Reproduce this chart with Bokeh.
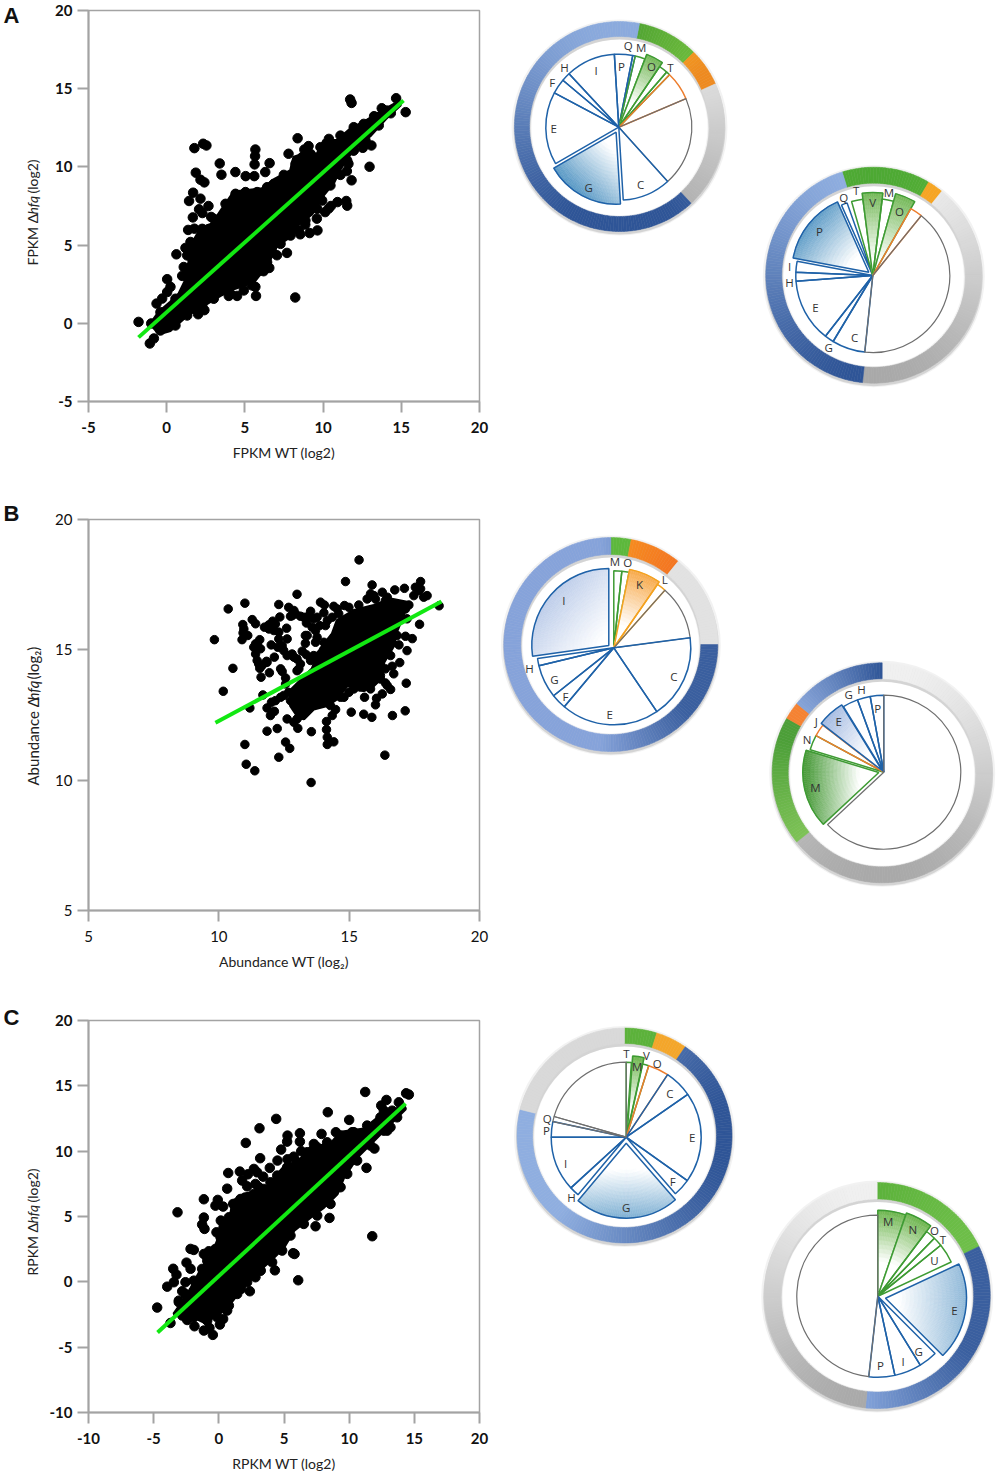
import math

from bokeh.core.properties import value
from bokeh.embed import file_html
from bokeh.layouts import column, row
from bokeh.models import FixedTicker
from bokeh.plotting import figure
from bokeh.resources import INLINE

# panel A, dots that can be told apart
a_x = [11.73, 11.82, 14.67, 15.28, 13.75, 14.07, 14.33, 13.26, 12.9, 8.37, 2.33, 2.54, 1.77, 5.67, 5.65, 7.79, 9.07, 8.8,
       3.39, 5.62, 6.58, 1.86, 3.5, 4.39, 5.05, 5.6, 6.3, 2.16, 2.41, 1.69, 2.16, 1.43, 2.67, 2.07, 2.28, 1.67, 2.84,
       1.37, 1.77, 1.52, 1.2, 0.62, 1.09, 0.99, 0.03, 0.24, 0.03, -0.29, -0.65, -1.8, -0.82, -1.08, -0.99, 2.01, 2.41,
       3.97, 4.5, 5.71, 8.22, 5.67, 6.2, 6.56, 7.05, 7.69, 8.54, 9.14, 9.64, 9.6, 8.86, 10.13, 10.5, 10.92, 11.48,
       11.54, 10.35, 11.82, 11.52, 12.97, 11.62, 13.09, 12.54, 11.94]
a_y = [14.31, 14.09, 14.39, 13.5, 13.75, 13.6, 13.43, 13.24, 12.75, 11.83, 11.48, 11.37, 11.2, 11.11, 10.69, 10.84, 11.33, 11.11,
       10.22, 10.16, 10.24, 9.63, 9.5, 9.67, 9.41, 9.41, 9.67, 9.18, 9.01, 8.35, 7.97, 7.82, 7.5, 7.29, 7.05, 6.77, 6.8,
       5.97, 6.05, 5.2, 4.82, 4.41, 3.6, 3.03, 2.82, 2.33, 2.0, 1.58, 1.26, 0.09, -0.97, -1.29, -0.01, 0.58, 0.84,
       1.75, 1.75, 1.75, 1.65, 2.33, 3.33, 3.54, 4.35, 4.5, 5.69, 5.77, 5.94, 6.69, 6.31, 7.11, 7.5, 7.75, 7.82,
       7.52, 7.33, 9.14, 9.73, 10.01, 10.2, 11.37, 11.22, 11.05]
# dots on the rim of the solid part
a_edge_x = [-0.4, 0.56, 1.2, 1.52, 1.31, 1.63, 2.27, 3.01, 3.76, 4.4, 5.04, 5.78, 6.42, 6.85, 7.49, 8.24, 8.66, 9.2, 9.83, 10.37,
            11.11, 11.96, 12.6, 13.56, 12.71, 11.96, 11.54, 11.11, 10.47, 9.94, 9.62, 8.87, 8.45, 7.92, 7.28, 6.74, 6.42, 6.0,
            5.46, 4.93, 4.08, 3.01, 2.27, 1.31, 0.56, -0.4]
a_edge_y = [0.71, 1.57, 3.06, 3.59, 4.34, 5.08, 6.04, 6.68, 7.64, 8.28, 8.39, 8.39, 8.7, 8.92, 9.49, 10.2, 10.62, 10.83, 11.26, 11.79,
            12.0, 12.54, 12.75, 12.65, 11.69, 11.05, 10.41, 9.49, 8.81, 7.85, 7.32, 6.57, 5.93, 5.61, 5.08, 4.55, 3.91, 3.38,
            2.42, 2.1, 1.88, 1.57, 1.14, 0.5, -0.14, -0.46]
# solid middle of the cloud: single dots cannot be read there, so its outline is read instead
a_core_x = [-1.04, -0.5, 0.24, 0.78, 1.2, 1.42, 1.42, 2.05, 2.59, 2.91, 3.55, 4.29, 5.15, 6.1, 6.96, 7.92, 8.13, 8.77, 9.62,
            10.05, 10.9, 11.75, 12.6, 13.46, 14.84, 14.95, 13.99, 13.03, 11.97, 11.11, 10.69, 9.83, 9.3, 8.34, 8.02, 7.06,
            6.42, 5.57, 4.29, 3.44, 2.37, 1.31, 0.24, -0.5]
a_core_y = [-0.03, 0.71, 1.35, 1.88, 2.74, 3.91, 4.76, 5.83, 6.25, 6.36, 7.32, 8.39, 8.49, 8.6, 9.24, 9.77, 10.62, 10.83, 10.83,
            11.69, 11.69, 12.43, 12.86, 13.39, 14.18, 13.97, 13.07, 12.0, 11.16, 9.88, 9.02, 7.96, 7.0, 6.25, 5.61, 4.98,
            3.7, 2.63, 2.2, 1.78, 1.14, 0.5, -0.46, -0.67]
a_fit_x = [-1.8, 15.14]
a_fit_y = [-0.9, 14.25]

b_x = [15.38, 14.86, 15.88, 13.0, 17.74, 17.54, 17.12, 16.75, 17.99, 17.86, 11.0, 10.36, 12.3, 12.68, 12.88, 12.75, 12.34, 11.28,
       11.41, 12.07, 11.92, 11.75, 10.92, 10.93, 11.11, 10.89, 9.83, 12.6, 12.3, 12.11, 12.62, 12.3, 11.57, 11.41, 11.34,
       12.01, 12.26, 12.49, 12.13, 11.41, 11.47, 11.83, 11.66, 11.57, 10.54, 11.94, 11.62, 12.43, 12.56, 10.17, 11.69,
       12.02, 11.19, 11.85, 12.13, 11.98, 12.37, 12.62, 11.85, 12.24, 12.88, 13.03, 13.55, 11.0, 12.56, 12.72, 12.3,
       11.05, 11.38, 13.54, 16.37, 14.13, 14.13, 14.16, 14.16, 14.41, 15.08, 15.56, 15.87, 16.66, 17.15, 14.35, 14.48,
       15.59, 14.8, 16.01, 16.05, 16.27, 16.59, 16.39, 17.19, 16.71, 16.65, 16.94, 17.22, 16.91, 17.42, 17.16, 17.7,
       18.45, 17.22, 13.9, 14.05, 14.41, 14.82, 14.03, 13.52, 13.13, 13.64, 13.36, 13.71, 13.39, 13.71, 13.32, 13.2,
       13.36, 12.81, 13.0, 13.52, 13.07, 15.82, 16.01, 15.37, 16.46, 16.39, 17.29, 17.74, 12.75, 15.82, 13.13]
b_y = [18.45, 17.62, 17.49, 17.13, 17.62, 17.4, 17.36, 17.3, 17.08, 17.02, 16.79, 16.57, 16.74, 16.63, 16.51, 16.29, 16.26, 16.16,
       16.0, 16.1, 15.96, 15.87, 15.97, 15.65, 15.55, 15.39, 15.39, 15.83, 15.68, 15.74, 15.42, 15.42, 15.39, 15.23, 15.1,
       15.19, 15.1, 14.97, 14.72, 14.84, 14.59, 14.56, 14.4, 14.29, 14.29, 14.12, 13.95, 14.17, 13.92, 13.41, 13.27,
       12.99, 12.77, 12.77, 12.64, 12.48, 13.18, 12.35, 11.88, 11.98, 12.22, 11.99, 11.86, 11.37, 11.46, 11.22, 10.88,
       10.61, 10.36, 9.91, 10.96, 12.25, 11.94, 11.65, 11.37, 11.47, 12.61, 12.53, 12.41, 12.48, 12.66, 12.48, 12.71,
       13.18, 13.18, 12.89, 13.14, 13.31, 13.48, 13.73, 13.72, 14.08, 14.37, 14.51, 14.97, 15.19, 15.43, 15.52, 15.98,
       16.69, 16.19, 16.83, 16.72, 16.67, 16.7, 16.42, 16.48, 16.29, 16.19, 16.03, 15.74, 15.55, 15.29, 15.25, 14.95,
       14.81, 14.84, 14.65, 14.59, 14.27, 17.15, 16.95, 16.72, 17.02, 16.89, 16.72, 17.34, 13.05, 14.24, 12.48]
b_edge_x = [12.94, 13.26, 13.45, 13.77, 13.87, 14.09, 14.35, 14.6, 13.77, 14.03, 13.9, 13.64, 12.81, 12.43, 12.62, 12.88, 13.13,
            13.0, 12.56, 12.17, 12.49, 12.68, 13.13, 13.39, 13.0, 13.71, 14.28, 14.67, 14.99, 15.56, 15.95, 16.2, 16.39, 16.59,
            16.84, 16.97, 17.48, 17.67, 17.16, 15.95, 16.27, 15.69, 14.99, 14.54, 16.46, 11.47, 11.6, 11.92, 12.17, 10.96,
            11.85, 11.53, 12.37, 13.32, 13.58, 14.16, 14.92, 15.18, 15.82, 16.2, 15.43]
b_edge_y = [16.38, 16.25, 16.31, 16.25, 15.93, 15.93, 16.25, 16.38, 15.48, 15.29, 14.84, 14.78, 16.31, 15.16, 14.78, 14.72, 14.46,
            14.2, 13.69, 13.05, 13.25, 13.37, 12.73, 12.73, 12.35, 12.93, 12.86, 13.18, 13.37, 13.57, 13.82, 14.01, 14.27, 14.78,
            15.55, 16.19, 17.08, 17.27, 16.57, 17.08, 17.21, 16.95, 16.63, 16.57, 13.63, 15.23, 15.04, 15.8, 15.99, 15.8,
            14.52, 14.46, 14.27, 15.55, 15.87, 16.12, 13.88, 13.5, 13.5, 13.88, 13.57]
b_core_x = [12.81, 13.58, 13.9, 14.35, 14.54, 15.18, 15.95, 16.59, 17.22, 17.1, 16.84, 16.71, 16.33, 16.27, 15.95, 15.56, 14.92,
            14.54, 14.16, 13.64, 13.26, 13.0, 12.75]
b_core_y = [13.5, 14.27, 15.04, 15.61, 16.12, 16.51, 16.7, 16.95, 16.83, 16.38, 15.74, 15.16, 14.52, 13.95, 13.63, 13.44, 13.63,
            13.12, 12.86, 12.73, 12.35, 12.48, 12.86]
b_fit_x = [9.87, 18.54]
b_fit_y = [12.2, 16.85]

c_x = [11.23, 14.37, 14.58, 12.86, 12.46, 13.81, 12.66, 8.36, 4.4, 10.0, 3.12, 5.27, 6.22, 7.88, 8.98, 2.07, 5.24, 6.22, 4.78,
       6.32, 7.29, 11.94, 3.17, 4.5, 5.27, 5.75, 0.72, 1.61, 2.69, 2.94, 3.91, 11.33, 2.23, 1.79, 3.4, 2.17, 2.81, 0.64,
       3.07, -1.15, -0.08, -0.26, 0.33, 1.1, -3.17, -1.15, -1.28, -1.1, 0.15, -0.18, 8.49, 11.77, 7.42, -2.17, -1.92,
       -0.77, -1.15, -2.48, 5.7, 5.81, 4.3, 6.09, -3.5, -3.25, -2.17, -3.45, -3.96, -2.56, -2.81, 2.38, -3.07, -4.73,
       -3.71, -2.43, -1.87, -1.15, -0.72, -0.46, 0.08, 0.33, 0.64, 1.71, 2.81, 3.2, 12.92, 13.17, 10.23]
c_y = [14.53, 14.43, 14.33, 13.92, 13.49, 13.74, 13.1, 12.98, 12.47, 12.39, 11.75, 11.19, 11.37, 11.32, 11.45, 10.63, 10.73, 10.73, 10.12,
       10.0, 10.55, 10.2, 9.46, 9.28, 9.38, 9.58, 8.33, 8.44, 8.64, 8.38, 8.72, 8.72, 8.23, 7.75, 8.05, 7.31, 7.49, 7.13,
       7.24, 6.32, 6.27, 5.83, 5.76, 5.96, 5.32, 4.92, 4.38, 4.05, 4.69, 3.79, 4.89, 3.49, 4.25, 2.52, 2.44,
       2.34, 2.13, 1.47, 2.19, 2.13, 0.88, 0.12, 1.0, 0.55, 1.0, -0.03, -0.37, -0.03, -0.72, -0.72, -1.44, -1.97,
       -3.15, -2.92, -3.4, -3.73, -3.53, -4.06, -3.27, -2.84, -2.2, -0.54, 0.35, 0.86, 11.57, 11.83, 11.45]
c_edge_x = [-3.07, -2.56, -1.92, -1.28, -0.89, -0.26, 0.13, 0.38, 0.77, 1.28, 1.66, 2.69, 3.45, 3.96, 4.48, 5.24, 6.01, 6.78, 7.55,
            8.31, 9.34, 10.36, 11.38, 12.4, 13.3, 13.68, 12.66, 11.64, 10.61, 9.85, 9.34, 8.57, 7.55, 6.52, 5.5, 4.86, 4.09, 3.2,
            2.17, 1.41, 0.77, -0.13, -0.89, -1.92, -2.81]
c_edge_y = [-1.56, -0.93, 0.09, 0.99, 1.62, 2.52, 3.41, 4.18, 4.94, 5.58, 6.34, 6.73, 7.11, 7.62, 8.13, 8.77, 9.15, 9.92, 10.3,
            10.68, 11.19, 11.45, 11.96, 12.59, 13.1, 12.59, 11.57, 10.43, 9.28, 8.26, 7.24, 5.96, 5.07, 4.43, 3.54, 2.39, 1.5, 0.86,
            -0.03, -0.93, -1.82, -2.71, -2.97, -2.71, -2.58]
c_core_x = [-3.45, -2.81, -2.17, -1.28, -0.51, 0, 0.13, 0.9, 1.15, 1.92, 3.45, 4.09, 4.86, 6.27, 7.03, 8.57, 9.34, 11.13, 12.4, 14.2,
            14.32, 13.04, 11.89, 10.61, 9.59, 9.08, 8.06, 7.03, 5.75, 4.99, 3.96, 2.94, 1.66, 0.64, -0.13, -1.15, -2.17, -3.2]
c_core_y = [-2.46, -1.56, -0.54, 1.11, 2.13, 3.41, 4.43, 5.2, 6.22, 6.73, 6.98, 7.75, 8.64, 9.41, 10.3, 10.55, 11.45, 11.7, 12.72, 13.49,
            13.23, 11.96, 10.81, 9.53, 8.0, 6.73, 5.71, 4.94, 3.92, 2.64, 1.62, 0.73, -0.67, -1.95, -2.58, -3.09, -2.58, -2.58]
c_fit_x = [-4.7, 14.33]
c_fit_y = [-3.88, 13.64]

a_ticks = [-5, 0, 5, 10, 15, 20]
b_ticks = [5, 10, 15, 20]
c_ticks = [-10, -5, 0, 5, 10, 15, 20]

# donuts, slices in degrees going clockwise, first one starts at *_start
a1_start = -3.5
a1_names = ["P", "Q", "M", "O", "", "T", "", "", "C", "G", "E", "F", "H", "I"]
a1_spans = [14.5, 2, 8, 13, 7, 3, 23, 71, 38.5, 63.5, 58, 12, 7, 39.5]
a1_kinds = "bbggggokbbbbbb"
a1_ring_start = 11
a1_ring = [34, 21, 71, 234]

a2_start = 186
a2_names = ["C", "G", "E", "H", "I", "P", "Q", "", "T", "V", "M", "O", "", ""]
a2_spans = [25, 7, 47.7, 6.8, 8.1, 55.4, 4.5, 3.5, 8.6, 14.4, 8.6, 14, 9.4, 147]
a2_kinds = "bbbbbbb-ggggok"
a2_ring_start = 343
a2_ring = [47.5, 8.5, 147, 157]

b1_start = 0
b1_names = ["M", "O", "K", "L", "", "C", "E", "F", "G", "H", "I"]
b1_spans = [6, 5.4, 23.2, 7, 40.9, 63.5, 74, 11.5, 25, 5.5, 98]
b1_kinds = "ggyykbbbbbb"
b1_ring_start = 0
b1_ring = [11, 28, 51, 270]

b2_start = 227
b2_names = ["M", "N", "J", "E", "G", "H", "P", ""]
b2_spans = [60, 11.3, 9.4, 20.7, 11.6, 9.8, 10.2, 227]
b2_kinds = "ggobbbbk"
b2_ring_start = 0
b2_ring = [231, 68.8, 9.2, 51]

c1_start = 0
c1_names = ["T", "M", "V", "O", "C", "E", "F", "G", "H", "I", "P", "Q", ""]
c1_spans = [4, 8.5, 5, 16, 21.7, 70.2, 13.6, 81, 7.5, 42.5, 12, 4, 74]
c1_kinds = "gggobbbbbbbkk"
c1_ring_start = 0
c1_ring = [17.5, 16.9, 249.6, 76]

c2_start = 0
c2_names = ["M", "N", "O", "T", "U", "E", "G", "I", "P", ""]
c2_spans = [19, 18, 7.3, 6.7, 14, 70, 13.4, 19.4, 18.6, 173.6]
c2_kinds = "gggggbbbbk"
c2_ring_start = 0
c2_ring = [64.3, 121.7, 174]

LINE = {"b": "#1F62A8", "g": "#3E9B33", "o": "#ED7D2D", "y": "#F4A21F", "k": "#6E6E6E"}
GREY_RING = ("#A6A6A6", "#F0F0F0", 0, -1, 0.9)

DONUTS = [
    dict(row=0, names=a1_names, spans=a1_spans, kinds=a1_kinds, start=a1_start, ring=a1_ring, ring_start=a1_ring_start,
         center=(618.3, 126.7), radius=73, ring_center=(619, 126), ring_r=(90, 105),
         ring_style=[("#4A9E30", "#6CBB3C", 90, 0, 0.7), ("#F6A623", "#EE8A20", 180, -0.9, -0.5), GREY_RING,
                     ("#8FAEE0", "#2F5597", 180, -1, 0.8)],
         big={"O": dict(r=78, color="#74B858", dir=28, lo=0.35, hi=1),
              "G": dict(r=72, tip=(-2.7, 5), color="#5D9BC6", dir=225, lo=0.2, hi=0.95)},
         label_x=[621, 627.7, 640.7, 651, None, 670, None, None, 640, 588.3, 553.3, 551.7, 564, 595.7],
         label_y=[65.7, 45, 47.3, 66, None, 66.7, None, None, 184, 186.7, 128.3, 81.7, 67.3, 70]),
    dict(row=0, names=a2_names, spans=a2_spans, kinds=a2_kinds, start=a2_start, ring=a2_ring, ring_start=a2_ring_start,
         center=(872.3, 275), radius=77, ring_center=(873.3, 274.7), ring_r=(92, 108),
         ring_style=[("#5CB63A", "#4AA632", 0, 0.6, 1), ("#F39A1E", "#F6A623", 30, 0, 1), GREY_RING,
                     ("#8FAEE0", "#2F5597", 180, -0.9, 0.9)],
         big={"P": dict(r=77, tip=(-4, -3.3), color="#5D9BC6", dir=310, lo=0.25, hi=1),
              "V": dict(r=83, color="#74B858", dir=0, lo=0.2, hi=1),
              "O": dict(r=85, color="#74B858", dir=22, lo=0.2, hi=1)},
         label_x=[854, 828.3, 815, 789, 789, 819, 843.3, None, 855.7, 872.3, 888.3, 899, None, None],
         label_y=[337.3, 347.3, 307.3, 281.7, 266, 230.7, 196.7, None, 190, 201.7, 191.7, 210.7, None, None]),
    dict(row=1, names=b1_names, spans=b1_spans, kinds=b1_kinds, start=b1_start, ring=b1_ring, ring_start=b1_ring_start,
         center=(613.3, 647.3), radius=77, ring_center=(610.3, 644), ring_r=(90, 107),
         ring_style=[("#5DB83C", "#5DB83C", 0, -1, 1), ("#F79420", "#F36F21", 90, 0, 0.7),
                     ("#E2E2E2", "#E2E2E2", 0, -1, 1), ("#86A3DA", "#3A5F9F", 90, -0.1, 0.7)],
         big={"K": dict(r=80, color="#F7A94A", dir=22, lo=0.3, hi=1),
              "I": dict(r=77, tip=(-5, -2.3), color="#BCCCE9", dir=310, lo=0.1, hi=1)},
         label_x=[614.3, 627.3, 639, 664.3, None, 673.3, 609.3, 565, 554, 529, 563.3],
         label_y=[560.7, 562.3, 584, 579.3, None, 675.7, 714, 695.7, 679, 668.3, 600]),
    dict(row=1, names=b2_names, spans=b2_spans, kinds=b2_kinds, start=b2_start, ring=b2_ring, ring_start=b2_ring_start,
         center=(883.3, 771.7), radius=77, ring_center=(881.7, 772.3), ring_r=(94, 110),
         ring_style=[GREY_RING, ("#84C75A", "#4C9F38", 0, -0.7, 0.3), ("#F58232", "#F58232", 0, -1, 1),
                     ("#8FACDF", "#2F5597", 90, -0.8, 0)],
         big={"M": dict(r=76, tip=(-5, 0.3), color="#4E9D3F", dir=270, lo=0.25, hi=0.95),
              "E": dict(r=77, tip=(-1.7, -1.7), color="#A6BCE2", dir=300, lo=0.25, hi=0.95)},
         label_x=[815, 806.7, 815.7, 838.3, 848.3, 861, 877.3, None],
         label_y=[786.7, 739, 721, 720.7, 694.3, 689.3, 708.3, None]),
    dict(row=2, names=c1_names, spans=c1_spans, kinds=c1_kinds, start=c1_start, ring=c1_ring, ring_start=c1_ring_start,
         center=(625.7, 1136.7), radius=75, ring_center=(624, 1135), ring_r=(92, 107.5),
         ring_style=[("#5CB23B", "#5CB23B", 0, -1, 1), ("#F4A62A", "#F4A62A", 0, -1, 1),
                     ("#8FAEE0", "#2F5597", 90, -0.6, 0.9), ("#D9D9D9", "#D9D9D9", 0, -1, 1)],
         big={"M": dict(r=78, tip=(1, -3.3), color="#6DB54E", dir=8, lo=0.35, hi=1),
              "G": dict(r=75, tip=(0, 6), color="#7FB0D3", dir=180, lo=0.35, hi=1)},
         label_x=[626, 636.7, 646, 656.7, 669.3, 691.7, 672.3, 625.7, 571, 565, 546, 546.7, None],
         label_y=[1053.3, 1065.7, 1055, 1063.3, 1093.3, 1137.3, 1180.7, 1206.7, 1196.7, 1162.7, 1130, 1118.3, None]),
    dict(row=2, names=c2_names, spans=c2_spans, kinds=c2_kinds, start=c2_start, ring=c2_ring, ring_start=c2_ring_start,
         center=(877.3, 1295.7), radius=81, ring_center=(876.7, 1295), ring_r=(96.5, 113),
         ring_style=[("#5CB23B", "#72C24C", 90, 0, 1), ("#8AA9DF", "#3A5F9F", 90, -0.2, 0.8), GREY_RING],
         big={"M": dict(r=86, color="#6DB54E", dir=10, lo=0.4, hi=1),
              "N": dict(r=88, color="#6DB54E", dir=28, lo=0.4, hi=1),
              "E": dict(r=81, tip=(7.7, 2), color="#8FB8D8", dir=90, lo=0.15, hi=1)},
         label_x=[887.7, 912.3, 934, 942.3, 934, 954, 918.3, 902.7, 880, None],
         label_y=[1220.7, 1229.3, 1230, 1239, 1260, 1310, 1350.7, 1360.7, 1365, None]),
]

ROWS = [(0, 500), (500, 990), (990, 1475)]
GUTTER = 46


def mix(c0, c1, t):
    t = max(0.0, min(1.0, t))
    rgb = [int(c0[i:i + 2], 16) + (int(c1[i:i + 2], 16) - int(c0[i:i + 2], 16)) * t for i in (1, 3, 5)]
    return "#%02x%02x%02x" % tuple(int(round(v)) for v in rgb)


def to_math(deg):
    return math.radians(90 - deg)


def shaded_cells(p, cx, cy, r0, r1, a0, a1, c_lo, c_hi, direction, lo, hi, radial):
    # bokeh has no gradient fill, so the area is cut in small cells and each gets its own colour
    n = max(2, int((a1 - a0) / 1.5))
    xs, ys, inner, outer, st, en, colors = [], [], [], [], [], [], []
    for i in range(n):
        b0 = a0 + (a1 - a0) * i / n
        b1 = a0 + (a1 - a0) * (i + 1) / n
        for j in range(radial):
            q0 = r0 + (r1 - r0) * j / radial
            q1 = r0 + (r1 - r0) * (j + 1) / radial
            proj = (q0 + q1) / 2 / r1 * math.cos(math.radians((b0 + b1) / 2 - direction))
            xs.append(cx)
            ys.append(cy)
            inner.append(q0)
            outer.append(q1)
            st.append(to_math(b1))
            en.append(to_math(b0))
            colors.append(mix(c_lo, c_hi, (proj - lo) / (hi - lo)))
    p.annular_wedge(xs, ys, inner, outer, st, en, fill_color=colors, line_color=colors, line_width=0.5)


def draw_donut(p, d):
    rx, ry = d["ring_center"]
    r_in, r_out = d["ring_r"]
    p.annulus([rx], [-ry - 1], r_in - 2, r_out + 3, fill_color="#000000", fill_alpha=0.05, line_color=None)
    p.annulus([rx], [-ry - 2], r_in - 1, r_out + 1, fill_color="#000000", fill_alpha=0.12, line_color=None)
    at = d["ring_start"]
    for span, style in zip(d["ring"], d["ring_style"]):
        shaded_cells(p, rx, -ry, r_in, r_out, at, at + span, *style, 1)
        at += span

    cx, cy = d["center"]
    at = d["start"]
    for name, span, kind in zip(d["names"], d["spans"], d["kinds"]):
        if kind != "-":
            big = d["big"].get(name, {})
            tip = big.get("tip", (0, 0))
            r = big.get("r", d["radius"])
            if big:
                shaded_cells(p, cx + tip[0], -(cy + tip[1]), 0.5, r, at, at + span, "#FFFFFF", big["color"],
                             big["dir"], big["lo"], big["hi"], 20)
            p.wedge([cx + tip[0]], [-(cy + tip[1])], r, to_math(at + span), to_math(at),
                    fill_color=None, line_color=LINE[kind], line_width=1.5 if kind != "k" else 1.2)
        at += span

    for name, lx, ly in zip(d["names"], d["label_x"], d["label_y"]):
        if name:
            p.text([lx], [-ly], [name], text_align="center", text_baseline="middle", text_color="#333333",
                   text_font=value("Open Sans"), text_font_size="11.5px")


def donut_figure(top, bottom, donuts):
    p = figure(width=500, height=bottom - top, x_range=(500, 1000), y_range=(-bottom, -top), frame_align=False,
               output_backend="svg", toolbar_location=None, min_border=0, outline_line_color=None)
    p.xaxis.visible = False
    p.yaxis.visible = False
    p.grid.visible = False
    for d in donuts:
        draw_donut(p, d)
    return p


def gutter_figure(top, bottom, letter, letter_y, y_parts, size):
    # panel letter and the y title with its italic part, these need several runs of text
    p = figure(width=GUTTER, height=bottom - top, x_range=(0, GUTTER), y_range=(-bottom, -top), frame_align=False,
               output_backend="svg", toolbar_location=None, min_border=0, outline_line_color=None)
    p.xaxis.visible = False
    p.yaxis.visible = False
    p.grid.visible = False
    p.text([3], [-letter_y], [letter], text_font=value("Liberation Sans"), text_font_size="22px",
           text_font_style="bold", text_color="#111111", text_baseline="middle")
    for text, py, style in y_parts:
        p.text([32], [-py], [text], angle=math.pi / 2, text_font=value("Lato"), text_font_size=size,
               text_font_style=style, text_color="#222222", text_baseline="middle", text_align="left")
    return p


def scatter_figure(top, bottom, frame_top, frame_bottom, x_range, y_range, x_ticks, y_ticks, xs, ys, core_x, core_y,
                   fit_x, fit_y, x_title, bold, dot):
    p = figure(width=500 - GUTTER, height=bottom - top, x_range=x_range, y_range=y_range, output_backend="svg",
               toolbar_location=None, min_border_left=88 - GUTTER, min_border_right=21, frame_align=False,
               min_border_top=frame_top - top, min_border_bottom=bottom - frame_bottom,
               outline_line_color="#A3A3A3", outline_line_width=1.5)
    p.grid.visible = False
    for axis, ticks in ((p.xaxis[0], x_ticks), (p.yaxis[0], y_ticks)):
        axis.ticker = FixedTicker(ticks=ticks)
        axis.major_label_overrides = {t: str(t) for t in ticks}
        axis.axis_line_color = "#A3A3A3"
        axis.axis_line_width = 2
        axis.major_tick_line_color = "#A3A3A3"
        axis.major_tick_line_width = 2
        axis.major_tick_out = 11
        axis.major_tick_in = 0
        axis.minor_tick_line_color = None
        axis.major_label_text_font = "Lato"
        axis.major_label_text_font_size = "15px"
        axis.major_label_text_font_style = "bold" if bold else "normal"
        axis.major_label_text_color = "#111111"
        axis.major_label_standoff = 5
    p.xaxis.major_label_standoff = 9
    p.xaxis.axis_label = x_title
    p.xaxis.axis_label_text_font = "Lato"
    p.xaxis.axis_label_text_font_size = "14px"
    p.xaxis.axis_label_text_font_style = "normal"
    p.xaxis.axis_label_text_color = "#222222"
    p.xaxis.axis_label_standoff = 8

    p.patch(core_x, core_y, fill_color="#000000", line_color="#000000", line_width=3)
    p.scatter(xs, ys, size=dot, color="#000000")
    p.line(fit_x, fit_y, line_color="#12E812", line_width=4)
    return p


panel_a = scatter_figure(0, 500, 10, 401, (-5, 20), (-5, 20), a_ticks, a_ticks, a_x + a_edge_x, a_y + a_edge_y,
                         a_core_x, a_core_y, a_fit_x, a_fit_y, "FPKM WT (log2)", True, 9.5)
panel_b = scatter_figure(500, 990, 519, 910, (5, 20), (5, 20), b_ticks, b_ticks, b_x + b_edge_x, b_y + b_edge_y,
                         b_core_x, b_core_y, b_fit_x, b_fit_y, "Abundance WT (log\u2082)", False, 8.5)
panel_c = scatter_figure(990, 1475, 1020, 1412, (-10, 20), (-10, 20), c_ticks, c_ticks, c_x + c_edge_x, c_y + c_edge_y,
                         c_core_x, c_core_y, c_fit_x, c_fit_y, "RPKM WT (log2)", True, 9.5)

gutters = [
    gutter_figure(0, 500, "A", 15, [("FPKM \u0394", 265, "normal"), ("hfq", 214, "italic"), ("(log2)", 193, "normal")], "14px"),
    gutter_figure(500, 990, "B", 513, [("Abundance \u0394", 785, "normal"), ("hfq", 700, "italic"), ("(log\u2082)", 679, "normal")], "15px"),
    gutter_figure(990, 1475, "C", 1017, [("RPKM \u0394", 1275, "normal"), ("hfq", 1223, "italic"), ("(log2)", 1202, "normal")], "14px"),
]

rows = []
for i, (top, bottom) in enumerate(ROWS):
    donuts = donut_figure(top, bottom, [d for d in DONUTS if d["row"] == i])
    rows.append(row(gutters[i], [panel_a, panel_b, panel_c][i], donuts, spacing=0))

page = column(*rows, spacing=0)

open("out.html", "w").write(file_html(page, INLINE))
